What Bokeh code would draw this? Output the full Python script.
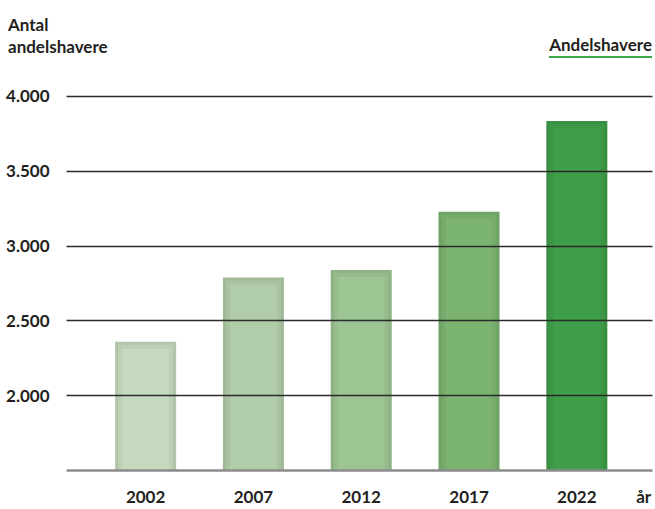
from bokeh.plotting import figure
from bokeh.layouts import column
from bokeh.models import Range1d, FixedTicker, ColumnDataSource, Div
from bokeh.embed import file_html
from bokeh.resources import INLINE

# ---- data ----
years = [2002, 2007, 2012, 2017, 2022]
values = [2360, 2790, 2840, 3230, 3835]
bar_colors = ["#c4d9bd", "#b1cca8", "#9dc493", "#7bb371", "#3f9e49"]
y_ticks = [2000, 2500, 3000, 3500, 4000]
y_tick_labels = ["2.000", "2.500", "3.000", "3.500", "4.000"]
x_unit_label = "år"
y_title_lines = ["Antal", "andelshavere"]
series_name = "Andelshavere"

FONT = "Lato"
TXT = "#231f20"
FS = "17px"


def shade(hex_color, f):
    h = hex_color.lstrip("#")
    r, g, b = (int(h[i:i + 2], 16) for i in (0, 2, 4))
    return "#%02x%02x%02x" % (int(r * f), int(g * f), int(b * f))


W, H = 655, 509
HEAD = 60                          # header strip height (titles)
FL, FR = 66, 652                   # frame left / right in pixels
FB = 471 - HEAD                    # frame bottom within chart figure
X0, X1 = 1998.33, 2025.51
Y0, Y1 = 1500, 4240
px_x = (X1 - X0) / (FR - FL)       # one pixel in x data units
px_y = (Y1 - Y0) / FB              # one pixel in y data units

# ---------- header strip with titles ----------
base = ("position:absolute;font-family:%s;font-weight:bold;font-size:%s;"
        "line-height:22px;color:%s;white-space:nowrap;" % (FONT, FS, TXT))
html = (
    '<div style="position:relative;width:%dpx;height:%dpx;">' % (W, HEAD)
    + '<div style="%sleft:8px;top:14px;">%s</div>' % (base, "<br>".join(y_title_lines))
    + '<div style="%sright:3px;top:34px;border-bottom:2px solid #3aaa4a;">%s</div>'
    % (base, series_name)
    + '</div>'
)
head = Div(text=html, width=W, height=HEAD, margin=0)

# ---------- chart ----------
p = figure(width=W, height=H - HEAD, output_backend="svg", toolbar_location=None,
           x_range=Range1d(X0, X1), y_range=Range1d(Y0, Y1),
           min_border_left=FL, min_border_right=W - FR, min_border_top=0,
           min_border_bottom=H - HEAD - FB, margin=0)
p.outline_line_color = None
p.background_fill_color = "white"
p.border_fill_color = "white"

bw = 61 * px_x

outer = ColumnDataSource(dict(x=years, top=values,
                              color=[shade(c, 0.91) for c in bar_colors]))
mid = ColumnDataSource(dict(x=years, top=[v - 3 * px_y for v in values],
                            color=[shade(c, 0.96) for c in bar_colors]))
inner = ColumnDataSource(dict(x=years, top=[v - 7 * px_y for v in values],
                              color=bar_colors))
p.vbar(x="x", top="top", bottom=Y0, width=bw, source=outer,
       fill_color="color", line_color=None)
p.vbar(x="x", top="top", bottom=Y0, width=bw - 6 * px_x, source=mid,
       fill_color="color", line_color=None)
p.vbar(x="x", top="top", bottom=Y0, width=bw - 14 * px_x, source=inner,
       fill_color="color", line_color=None)

# y axis
p.yaxis.ticker = FixedTicker(ticks=y_ticks)
p.yaxis.major_label_overrides = {t: l for t, l in zip(y_ticks, y_tick_labels)}
p.yaxis.axis_line_color = None
p.yaxis.major_tick_line_color = None
p.yaxis.minor_tick_line_color = None
p.yaxis.major_label_standoff = 11
p.yaxis.major_label_text_font = FONT
p.yaxis.major_label_text_font_style = "bold"
p.yaxis.major_label_text_font_size = FS
p.yaxis.major_label_text_color = TXT

# grid lines drawn over bars
p.xgrid.grid_line_color = None
p.ygrid.ticker = FixedTicker(ticks=y_ticks)
p.ygrid.grid_line_color = "#2b2b2b"
p.ygrid.grid_line_width = 1.4
p.ygrid.level = "overlay"

# x axis
x_unit_pos = 2025.1
p.xaxis.ticker = FixedTicker(ticks=years + [x_unit_pos])
ov = {y: str(y) for y in years}
ov[x_unit_pos] = x_unit_label
p.xaxis.major_label_overrides = ov
p.xaxis.axis_line_color = "#8c8c8c"
p.xaxis.axis_line_width = 2.5
p.xaxis.major_tick_line_color = None
p.xaxis.minor_tick_line_color = None
p.xaxis.major_label_standoff = 9
p.xaxis.major_label_text_font = FONT
p.xaxis.major_label_text_font_style = "bold"
p.xaxis.major_label_text_font_size = FS
p.xaxis.major_label_text_color = TXT

layout = column(head, p, spacing=0, margin=0)
open("out.html", "w").write(file_html(layout, INLINE))
